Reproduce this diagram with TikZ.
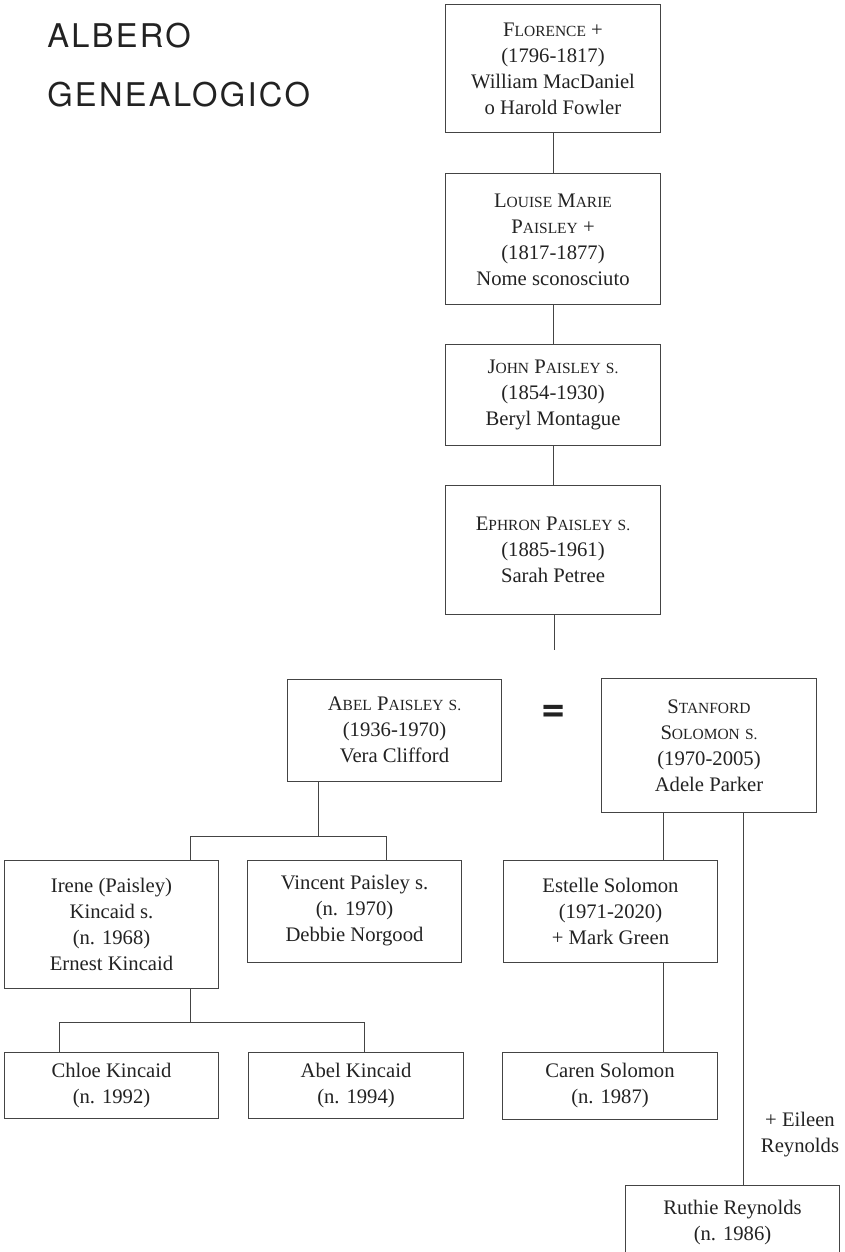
\documentclass[tikz,border=0pt]{standalone}
\usepackage{fontspec}
\setmainfont{Liberation Serif}
\newfontfamily\titlefont[LetterSpace=7]{TeX Gyre Heros}
\newfontfamily\signfont{TeX Gyre Heros}
\usetikzlibrary{positioning}
\definecolor{inkgray}{HTML}{222222}
\definecolor{linegray}{HTML}{444444}
\newcommand{\smc}[1]{{\fontsize{11.6}{19.5}\selectfont #1}}
\tikzset{
  person/.style = {
      draw=linegray,
      line width=0.75pt,
      align=center,
      text=inkgray,
      font=\fontsize{15.5}{19.5}\selectfont,
      inner sep=0pt,
      minimum width=161pt
  },
  link/.style = {
      draw=linegray,
      line width=0.75pt
  },
  heading/.style = {
      font=\titlefont\fontsize{24.5}{30}\selectfont,
      text=inkgray,
      anchor=base west,
      inner sep=0pt
  },
  note/.style = {
      align=center,
      text=inkgray,
      font=\fontsize{15.5}{19.5}\selectfont,
      inner sep=0pt
  }
}

\begin{document}
\begin{tikzpicture}[x=0.75pt, y=-0.75pt]
    \useasboundingbox (0,0) rectangle (845,1252);
    % Title
    \node[heading] (ttl1) at (47,48) {ALBERO};
    \node[heading] (ttl2) at (47,107) {GENEALOGICO};
    % Main line
    \node[person, minimum height=96pt] (flo) at (553,69)
        {F\smc{LORENCE} +\\(1796-1817)\\William MacDaniel\\o Harold Fowler};
    \node[person, minimum height=98pt, below=30pt of flo] (lou)
        {L\smc{OUISE} M\smc{ARIE}\\P\smc{AISLEY} +\\(1817-1877)\\Nome sconosciuto};
    \node[person, minimum height=76pt, below=29pt of lou] (joh)
        {J\smc{OHN} P\smc{AISLEY} \smc{S.}\\(1854-1930)\\Beryl Montague};
    \node[person, minimum height=97pt, below=29pt of joh] (eph)
        {E\smc{PHRON} P\smc{AISLEY} \smc{S.}\\(1885-1961)\\Sarah Petree};
    \coordinate (union) at (554,650);
    % Couple
    \node[person, minimum height=76.5pt] (abe) at (394.5,730)
        {A\smc{BEL} P\smc{AISLEY} \smc{S.}\\(1936-1970)\\Vera Clifford};
    \node[inner sep=0pt, text=inkgray, font=\signfont\bfseries\fontsize{31}{31}\selectfont] (eq) at (554,713) {=};
    \node[person, minimum height=100pt] (sta) at (709,745.5)
        {S\smc{TANFORD}\\S\smc{OLOMON} \smc{S.}\\(1970-2005)\\Adele Parker};
    % Children
    \node[person, minimum height=96pt] (ire) at (111.5,924)
        {Irene (Paisley)\\Kincaid s.\\(n. 1968)\\Ernest Kincaid};
    \node[person, minimum height=76.5pt] (vin) at (354.5,911)
        {Vincent Paisley s.\\(n. 1970)\\Debbie Norgood};
    \node[person, minimum height=76.5pt] (est) at (610.5,911)
        {Estelle Solomon\\(1971-2020)\\+ Mark Green};
    % Grandchildren
    \node[person, minimum height=50pt] (chl) at (111.5,1085.5)
        {Chloe Kincaid\\(n. 1992)};
    \node[person, minimum height=50pt] (abk) at (356,1085.5)
        {Abel Kincaid\\(n. 1994)};
    \node[person, minimum height=50pt] (car) at (610,1086)
        {Caren Solomon\\(n. 1987)};
    \node[person, minimum height=57pt] (rut) at (732.5,1223)
        {Ruthie Reynolds\\(n. 1986)};
    \node[note] (eil) at (800,1134.5) {+ Eileen\\Reynolds};
    % Forks
    \coordinate (abefork) at (318,836);
    \coordinate (iredrop) at (190,836);
    \coordinate (vindrop) at (386,836);
    \coordinate (irefork) at (190,1022);
    \coordinate (chldrop) at (59,1022);
    \coordinate (abkdrop) at (364,1022);
    \coordinate (solleft) at (663,836);
    \coordinate (solright) at (743,836);
    % Edges
    \path[link]
    (flo.south) -- (flo.south |- lou.north)
    (lou.south) -- (lou.south |- joh.north)
    (joh.south) -- (joh.south |- eph.north)
    (union |- eph.south) -- (union)
    (abefork |- abe.south) -- (abefork)
    (iredrop |- ire.north) -- (iredrop) -- (vindrop) -- (vindrop |- vin.north)
    (irefork |- ire.south) -- (irefork)
    (chldrop |- chl.north) -- (chldrop) -- (abkdrop) -- (abkdrop |- abk.north)
    (solleft |- sta.south) -- (solleft |- est.north)
    (solleft |- est.south) -- (solleft |- car.north)
    (solright |- sta.south) -- (solright |- rut.north);
\end{tikzpicture}
\end{document}
